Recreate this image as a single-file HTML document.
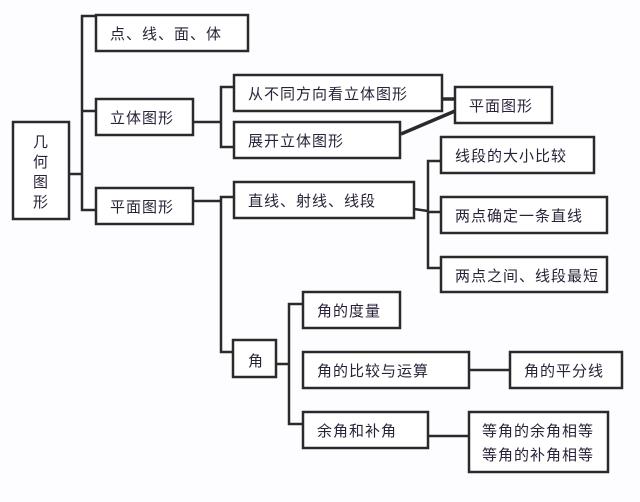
<!DOCTYPE html>
<html><head><meta charset="utf-8"><style>
html,body{margin:0;padding:0;background:#fdfdff;}
svg text{font-family:"Liberation Sans","Noto Sans CJK SC",sans-serif;font-size:15px;fill:#2a2238;letter-spacing:1px;}
</style></head><body>
<svg width="640" height="497" xmlns="http://www.w3.org/2000/svg">
<g fill="#fff" stroke="#2a2a2a" stroke-width="2.5">
<rect x="13" y="122" width="56" height="97"/>
<rect x="96" y="15" width="152" height="36"/>
<rect x="96" y="99" width="97" height="36"/>
<rect x="96" y="188" width="97" height="36"/>
<rect x="234" y="75" width="208" height="36"/>
<rect x="234" y="122" width="166" height="36"/>
<rect x="455" y="87" width="97" height="36"/>
<rect x="234" y="182" width="180" height="36"/>
<rect x="441" y="137" width="153" height="36"/>
<rect x="441" y="197" width="166" height="36"/>
<rect x="441" y="257" width="166" height="35"/>
<rect x="233" y="340" width="43" height="37"/>
<rect x="303" y="292" width="97" height="36"/>
<rect x="303" y="352" width="166" height="36"/>
<rect x="303" y="412" width="125" height="36"/>
<rect x="510" y="352" width="112" height="36"/>
<rect x="469" y="412" width="139" height="60"/>
</g>
<g fill="none" stroke="#2a2a2a" stroke-width="2.5">
<path d="M69 174H82M96 16H82V210H96M82 111H96"/>
<path d="M193 122H221M234 87H221V147H234"/>
<path d="M442 99H455" stroke-width="3.5"/>
<path d="M401 134L455 111" stroke-width="3.5"/>
<path d="M193 201H221M234 197H221V352H233"/>
<path d="M414 209L428 211M441 161H428V268H441M428 212H441"/>
<path d="M276 364H289M303 304H289V424H303"/>
<path d="M469 370H510M428 436H469"/>
</g>
<g>
<text x="33" y="147">几</text><text x="33" y="167">何</text><text x="33" y="187">图</text><text x="33" y="207">形</text>
<text x="110" y="39">点、线、面、体</text>
<text x="110" y="123">立体图形</text>
<text x="110" y="212">平面图形</text>
<text x="248" y="99">从不同方向看立体图形</text>
<text x="248" y="146">展开立体图形</text>
<text x="469" y="111">平面图形</text>
<text x="248" y="206">直线、射线、线段</text>
<text x="455" y="161">线段的大小比较</text>
<text x="455" y="221">两点确定一条直线</text>
<text x="455" y="281">两点之间、线段最短</text>
<text x="248" y="366">角</text>
<text x="317" y="316">角的度量</text>
<text x="317" y="376">角的比较与运算</text>
<text x="317" y="436">余角和补角</text>
<text x="524" y="376">角的平分线</text>
<text x="482" y="436">等角的余角相等</text>
<text x="482" y="460">等角的补角相等</text>
</g>
</svg>
</body></html>
